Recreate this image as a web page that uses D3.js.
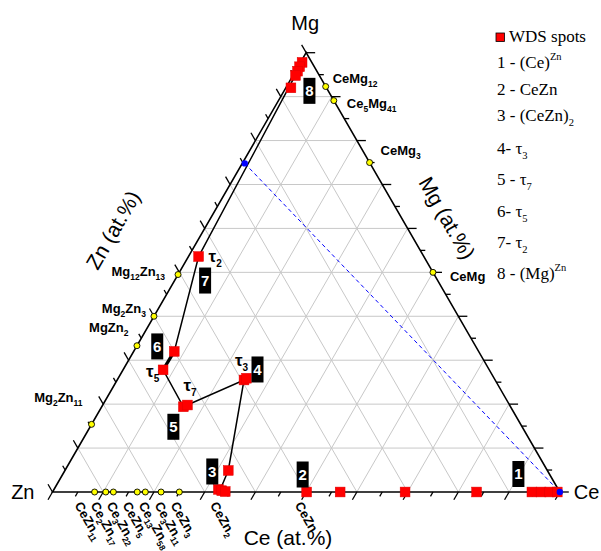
<!DOCTYPE html>
<html><head><meta charset="utf-8">
<script src="https://cdn.jsdelivr.net/npm/d3@7"></script>
<style>body{margin:0;background:#fff} svg{display:block}</style>
</head><body><svg id="c" width="601" height="551"></svg>
<script>
// ================= DATA (at.%) =================
const vertexLabels = ["Zn", "Ce", "Mg"];
const axisTitles = ["Ce (at.%)", "Zn (at.%)", "Mg (at.%)"];

// binary Zn-Ce phases (Ce at.%)
const znCePhases = ["CeZn_{11}", "Ce_{2}Zn_{17}", "Ce_{3}Zn_{22}", "CeZn_{5}", "Ce_{13}Zn_{58}", "Ce_{3}Zn_{11}", "CeZn_{3}", "CeZn_{2}", "CeZn"];
const znCePhaseCe = [8.3, 10.5, 12.0, 16.7, 18.3, 21.4, 25.0, 33.3, 50.0];

// binary Mg-Zn phases (Mg at.%)
const mgZnPhases = ["Mg_{12}Zn_{13}", "Mg_{2}Zn_{3}", "MgZn_{2}", "Mg_{2}Zn_{11}"];
const mgZnPhaseMg = [49.5, 40.0, 33.3, 15.4];

// binary Ce-Mg phases (Mg at.%)
const ceMgPhases = ["CeMg_{12}", "Ce_{5}Mg_{41}", "CeMg_{3}", "CeMg"];
const ceMgPhaseMg = [92.3, 89.1, 75.0, 50.0];

// WDS spots (Ce at.%, Mg at.%)
const spotCe = [0.3, 0.3, 0.4, 0.5, 1.0, 2.0, 8.0, 7.9, 16.1, 16.7, 25.0, 25.3, 32.2, 32.4, 33.2, 34.0, 50.1, 56.7, 69.5, 83.6, 94.5, 96.3, 98.0, 99.5];
const spotMg = [97.8, 96.8, 95.8, 94.8, 92.0, 53.6, 32.0, 27.8, 19.4, 19.8, 25.5, 25.9, 4.9, 0.6, 0.3, 0.1, 0.0, 0.0, 0.0, 0.0, 0.0, 0.0, 0.0, 0.0];

// phase path connecting spots
const pathCe = [0.4, 2.0, 8.0, 7.9, 16.1, 25.0, 32.2, 32.8];
const pathMg = [95.8, 53.6, 32.0, 27.8, 19.4, 25.5, 4.9, 0.5];

// dashed blue tie line
const tieCe = [0.5, 100];
const tieMg = [74.8, 0];

// numbered spot tags -> index of the spot they mark
const tagNumbers = ["1", "2", "3", "4", "5", "6", "7", "8"];
const tagSpot = [20, 16, 12, 10, 8, 6, 5, 4];

// tau labels -> spot index
const tauLabels = ["τ_{2}", "τ_{5}", "τ_{7}", "τ_{3}"];
const tauSpot = [5, 7, 8, 10];

// legend
const legendTitle = "WDS spots";
const legendItems = ["1 - (Ce)^{Zn}", "2 - CeZn", "3 - (CeZn)_{2}", "4- τ_{3}", "5 - τ_{7}", "6- τ_{5}", "7- τ_{2}", "8 - (Mg)^{Zn}"];

// ================= DRAWING =================
const svg = d3.select("#c");
svg.append("rect").attr("width", 601).attr("height", 551).attr("fill", "#fff");

const xs = d3.scaleLinear().domain([0, 100]).range([52.5, 559.8]);   // along base
const ys = d3.scaleLinear().domain([0, 100]).range([492, 52.7]);     // Mg height
const P = (ce, mg) => [xs(ce + mg / 2), ys(mg)];
const line = d3.line();

const SANS = "'Liberation Sans', Arial, sans-serif";
const SERIF = "'Liberation Serif', 'Times New Roman', serif";

function rich(sel, str, small, sub, sup) {
  const parts = str.split(/(_\{[^}]*\}|\^\{[^}]*\})/).filter(s => s.length);
  let shift = 0;
  parts.forEach(p => {
    let target = 0, txt = p, fs = null;
    if (p.startsWith("_{")) { target = sub; fs = small; txt = p.slice(2, -1); }
    else if (p.startsWith("^{")) { target = sup; fs = small; txt = p.slice(2, -1); }
    const t = sel.append("tspan").attr("dy", target - shift).text(txt);
    if (fs) t.attr("font-size", fs);
    shift = target;
  });
}

// grid
const grid = svg.append("g").attr("stroke", "#c8c8c8").attr("stroke-width", 1).attr("fill", "none");
const gv = d3.range(10, 100, 10);
gv.forEach(v => {
  grid.append("path").attr("d", line([P(0, v), P(100 - v, v)]));
  grid.append("path").attr("d", line([P(v, 0), P(v, 100 - v)]));
  grid.append("path").attr("d", line([P(100 - v, 0), P(0, 100 - v)]));
});

// axes
const ax = svg.append("g").attr("stroke", "#000").attr("fill", "none");
ax.append("path").attr("d", line([P(0, 0), P(100, 0), P(0, 100), P(0, 0)]) + "Z").attr("stroke-width", 1.6);
const tickVals = xs.ticks(20);
tickVals.forEach(v => {
  const len = (Math.round(v) % 10 === 0) ? 9 : 5;
  let [x, y] = P(v, 0);
  ax.append("path").attr("d", line([[x, y], [x - 0.5 * len, y + 0.866 * len]])).attr("stroke-width", 1.3);
  [x, y] = P(100 - v, v);
  ax.append("path").attr("d", line([[x, y], [x + len, y]])).attr("stroke-width", 1.3);
  [x, y] = P(0, 100 - v);
  ax.append("path").attr("d", line([[x, y], [x - 0.5 * len, y - 0.866 * len]])).attr("stroke-width", 1.3);
});

// dashed tie line
svg.append("path").attr("d", line(tieCe.map((c, i) => P(c, tieMg[i]))))
  .attr("stroke", "#0000ff").attr("stroke-width", 1).attr("stroke-dasharray", "4,3").attr("fill", "none");

// phase path
const pts = pathCe.map((c, i) => P(c, pathMg[i]));
svg.append("path").attr("d", line(pts)).attr("stroke", "#000").attr("stroke-width", 1.5).attr("fill", "none");
svg.append("path").attr("d", line([pts[2], pts[3]])).attr("stroke", "#000").attr("stroke-width", 3.2).attr("fill", "none");

// phase dots
function dot(p) {
  svg.append("circle").attr("cx", p[0]).attr("cy", p[1]).attr("r", 3)
    .attr("fill", "#ffff00").attr("stroke", "#000").attr("stroke-width", 0.9);
}
znCePhaseCe.forEach(c => dot(P(c, 0)));
mgZnPhaseMg.forEach(m => dot(P(0, m)));
ceMgPhaseMg.forEach(m => dot(P(100 - m, m)));

// WDS spots
const SQ = 9.8;
spotCe.forEach((c, i) => {
  const [x, y] = P(c, spotMg[i]);
  svg.append("rect").attr("x", x - SQ / 2).attr("y", y - SQ / 2).attr("width", SQ).attr("height", SQ)
    .attr("fill", "#ff0000").attr("stroke", "#e00000").attr("stroke-width", 0.5);
});

// tie line end dots
tieCe.forEach((c, i) => {
  const [x, y] = P(c, tieMg[i]);
  svg.append("circle").attr("cx", x).attr("cy", y).attr("r", 3.2).attr("fill", "#0000ff");
});

// phase labels
const lab = svg.append("g").attr("font-family", SANS).attr("font-weight", "bold").attr("font-size", 13).attr("fill", "#000");
const leftOff = [[-13, 1], [-8, -3], [-8.5, -14], [-9, -22]];
mgZnPhases.forEach((n, i) => {
  const [x, y] = P(0, mgZnPhaseMg[i]);
  const t = lab.append("text").attr("x", x + leftOff[i][0]).attr("y", y + leftOff[i][1]).attr("text-anchor", "end");
  rich(t, n, 8.5, 4, -6);
});
const rightOff = [[7, -4], [13, 7], [11, -8], [17, 9]];
ceMgPhases.forEach((n, i) => {
  const [x, y] = P(100 - ceMgPhaseMg[i], ceMgPhaseMg[i]);
  const t = lab.append("text").attr("x", x + rightOff[i][0]).attr("y", y + rightOff[i][1]);
  rich(t, n, 8.5, 4, -6);
});
// bottom labels, spread to avoid overlap
const lx = znCePhaseCe.map(c => xs(c) - 4);
for (let it = 0; it < 300; it++) {
  for (let i = 1; i < lx.length; i++) {
    const g = lx[i] - lx[i - 1];
    if (g < 16) { const d = (16 - g) / 2; lx[i - 1] -= d; lx[i] += d; }
  }
}
znCePhases.forEach((n, i) => {
  const g = lab.append("g").attr("transform", `translate(${lx[i] + 1},500) rotate(60)`);
  const t = g.append("text").attr("x", 0).attr("y", 10);
  rich(t, n, 8.5, 3.5, -6);
});

// numbered tags
const tagOff = [[-13.5, -18], [-4, -17.5], [-16, 1], [13.5, -10.5], [-10, 20], [-17, -5], [6.5, 24], [18.5, 3]];
tagNumbers.forEach((n, i) => {
  const s = tagSpot[i];
  const [x0, y0] = P(spotCe[s], spotMg[s]);
  const x = x0 + tagOff[i][0], y = y0 + tagOff[i][1];
  svg.append("rect").attr("x", x - 6).attr("y", y - 13).attr("width", 12).attr("height", 26).attr("fill", "#000");
  svg.append("text").attr("x", x).attr("y", y + 5.3).attr("text-anchor", "middle")
    .attr("font-family", SANS).attr("font-weight", "bold").attr("font-size", 15).attr("fill", "#fff").text(n);
});

// tau labels
const tauOff = [[10, 5], [-17, 7], [0, -16], [-9, -14]];
tauLabels.forEach((n, i) => {
  const s = tauSpot[i];
  const [x0, y0] = P(spotCe[s], spotMg[s]);
  const t = svg.append("text").attr("x", x0 + tauOff[i][0]).attr("y", y0 + tauOff[i][1])
    .attr("font-family", SANS).attr("font-weight", "bold").attr("font-size", 17).attr("fill", "#000");
  rich(t, n, 10, 5, -6);
});

// vertex labels
const vt = svg.append("g").attr("font-family", SANS).attr("font-size", 20).attr("fill", "#000");
vt.append("text").attr("x", P(0, 0)[0] - 18).attr("y", P(0, 0)[1] + 7).attr("text-anchor", "end").text(vertexLabels[0]);
vt.append("text").attr("x", P(100, 0)[0] + 14).attr("y", P(100, 0)[1] + 7).text(vertexLabels[1]);
vt.append("text").attr("x", P(0, 100)[0] - 1).attr("y", P(0, 100)[1] - 23).attr("text-anchor", "middle").text(vertexLabels[2]);

// axis titles
const at = svg.append("g").attr("font-family", SANS).attr("font-size", 21).attr("fill", "#000");
at.append("text").attr("x", 288).attr("y", 545).attr("text-anchor", "middle").text(axisTitles[0]);
at.append("text").attr("transform", "translate(113,230) rotate(-60)").attr("text-anchor", "middle").attr("dy", "0.35em").text(axisTitles[1]);
at.append("text").attr("transform", "translate(447,218) rotate(60)").attr("text-anchor", "middle").attr("dy", "0.35em").text(axisTitles[2]);

// legend
const lg = svg.append("g").attr("font-family", SERIF).attr("font-size", 17).attr("fill", "#000");
lg.append("rect").attr("x", 496).attr("y", 33).attr("width", 8.5).attr("height", 8.5).attr("fill", "#ff0000").attr("stroke", "#000").attr("stroke-width", 0.8);
lg.append("text").attr("x", 509).attr("y", 42).text(legendTitle);
const legY = [68, 94.5, 121, 154, 185, 216.5, 248, 279];
legendItems.forEach((s, i) => {
  const t = lg.append("text").attr("x", 497).attr("y", legY[i]);
  rich(t, s, 10.5, 5, -8);
});
</script></body></html>
